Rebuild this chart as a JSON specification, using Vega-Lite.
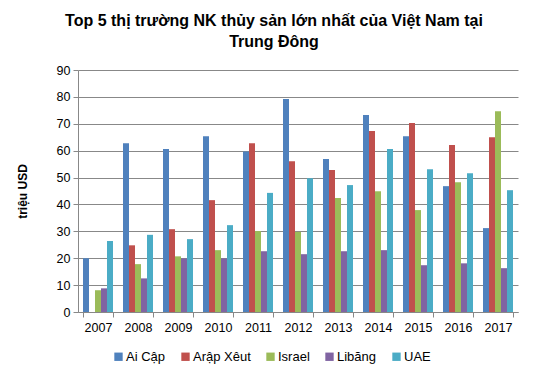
{
  "$schema": "https://vega.github.io/schema/vega-lite/v6.json",
  "autosize": {"type": "none"},
  "width": 440,
  "height": 242,
  "padding": {"left": 78, "top": 70, "right": 24, "bottom": 79},
  "background": "white",
  "title": {
    "text": ["Top 5 thị trường NK thủy sản lớn nhất của Việt Nam tại", "Trung Đông"],
    "font": "Liberation Sans",
    "fontSize": 16,
    "fontWeight": "bold",
    "color": "#000000",
    "anchor": "middle",
    "dx": -24,
    "offset": 14,
    "lineHeight": 21
  },
  "data": {
    "values": [
      {"year": "2007", "country": "Ai Cập", "value": 20},
      {"year": "2007", "country": "Arập Xêut", "value": 0},
      {"year": "2007", "country": "Israel", "value": 8.1},
      {"year": "2007", "country": "Libăng", "value": 8.8},
      {"year": "2007", "country": "UAE", "value": 26.4},
      {"year": "2008", "country": "Ai Cập", "value": 62.8},
      {"year": "2008", "country": "Arập Xêut", "value": 24.8},
      {"year": "2008", "country": "Israel", "value": 17.8},
      {"year": "2008", "country": "Libăng", "value": 12.5},
      {"year": "2008", "country": "UAE", "value": 28.7},
      {"year": "2009", "country": "Ai Cập", "value": 60.6},
      {"year": "2009", "country": "Arập Xêut", "value": 30.8},
      {"year": "2009", "country": "Israel", "value": 20.7},
      {"year": "2009", "country": "Libăng", "value": 19.9},
      {"year": "2009", "country": "UAE", "value": 27.1},
      {"year": "2010", "country": "Ai Cập", "value": 65.4},
      {"year": "2010", "country": "Arập Xêut", "value": 41.6},
      {"year": "2010", "country": "Israel", "value": 23.0},
      {"year": "2010", "country": "Libăng", "value": 19.9},
      {"year": "2010", "country": "UAE", "value": 32.3},
      {"year": "2011", "country": "Ai Cập", "value": 59.7},
      {"year": "2011", "country": "Arập Xêut", "value": 62.8},
      {"year": "2011", "country": "Israel", "value": 30.1},
      {"year": "2011", "country": "Libăng", "value": 22.6},
      {"year": "2011", "country": "UAE", "value": 44.3},
      {"year": "2012", "country": "Ai Cập", "value": 79.2},
      {"year": "2012", "country": "Arập Xêut", "value": 56.1},
      {"year": "2012", "country": "Israel", "value": 29.8},
      {"year": "2012", "country": "Libăng", "value": 21.5},
      {"year": "2012", "country": "UAE", "value": 49.7},
      {"year": "2013", "country": "Ai Cập", "value": 56.9},
      {"year": "2013", "country": "Arập Xêut", "value": 52.8},
      {"year": "2013", "country": "Israel", "value": 42.4},
      {"year": "2013", "country": "Libăng", "value": 22.6},
      {"year": "2013", "country": "UAE", "value": 47.2},
      {"year": "2014", "country": "Ai Cập", "value": 73.3},
      {"year": "2014", "country": "Arập Xêut", "value": 67.3},
      {"year": "2014", "country": "Israel", "value": 44.9},
      {"year": "2014", "country": "Libăng", "value": 23.0},
      {"year": "2014", "country": "UAE", "value": 60.6},
      {"year": "2015", "country": "Ai Cập", "value": 65.4},
      {"year": "2015", "country": "Arập Xêut", "value": 70.3},
      {"year": "2015", "country": "Israel", "value": 37.9},
      {"year": "2015", "country": "Libăng", "value": 17.4},
      {"year": "2015", "country": "UAE", "value": 53.1},
      {"year": "2016", "country": "Ai Cập", "value": 46.8},
      {"year": "2016", "country": "Arập Xêut", "value": 62.1},
      {"year": "2016", "country": "Israel", "value": 48.3},
      {"year": "2016", "country": "Libăng", "value": 18.1},
      {"year": "2016", "country": "UAE", "value": 51.6},
      {"year": "2017", "country": "Ai Cập", "value": 31.2},
      {"year": "2017", "country": "Arập Xêut", "value": 65.0},
      {"year": "2017", "country": "Israel", "value": 74.7},
      {"year": "2017", "country": "Libăng", "value": 16.3},
      {"year": "2017", "country": "UAE", "value": 45.3}
    ]
  },
  "mark": {"type": "bar"},
  "encoding": {
    "x": {
      "field": "year",
      "type": "nominal",
      "scale": {"paddingInner": 0.25, "paddingOuter": 0.125},
      "axis": {
        "title": null,
        "labelAngle": 0,
        "labelFont": "Liberation Sans",
        "labelFontSize": 12.5,
        "labelColor": "#000000",
        "labelPadding": 4,
        "domainColor": "#888888",
        "tickColor": "#888888",
        "tickBand": "extent",
        "tickSize": 5
      }
    },
    "xOffset": {
      "field": "country",
      "type": "nominal",
      "sort": ["Ai Cập", "Arập Xêut", "Israel", "Libăng", "UAE"],
      "scale": {"paddingInner": 0, "paddingOuter": 0}
    },
    "y": {
      "field": "value",
      "type": "quantitative",
      "scale": {"domain": [0, 90]},
      "axis": {
        "title": "triệu USD",
        "titleFont": "Liberation Sans",
        "titleFontSize": 12,
        "titleFontWeight": "bold",
        "titleColor": "#000000",
        "titlePadding": 27,
        "values": [0, 10, 20, 30, 40, 50, 60, 70, 80, 90],
        "labelFont": "Liberation Sans",
        "labelFontSize": 12.5,
        "labelColor": "#000000",
        "labelPadding": 3,
        "grid": true,
        "gridColor": "#888888",
        "gridWidth": 1,
        "domainColor": "#888888",
        "tickColor": "#888888",
        "tickSize": 5
      }
    },
    "color": {
      "field": "country",
      "type": "nominal",
      "sort": ["Ai Cập", "Arập Xêut", "Israel", "Libăng", "UAE"],
      "scale": {
        "domain": ["Ai Cập", "Arập Xêut", "Israel", "Libăng", "UAE"],
        "range": ["#4F81BD", "#C0504D", "#9BBB59", "#8064A2", "#4BACC6"]
      },
      "legend": {
        "title": null,
        "orient": "none",
        "direction": "horizontal",
        "legendX": 34,
        "legendY": 280,
        "symbolType": "square",
        "symbolSize": 70,
        "symbolStrokeWidth": 0,
        "labelFont": "Liberation Sans",
        "labelFontSize": 13,
        "labelColor": "#000000",
        "labelOffset": 1,
        "columnPadding": 13
      }
    }
  },
  "config": {
    "view": {"stroke": null}
  }
}
